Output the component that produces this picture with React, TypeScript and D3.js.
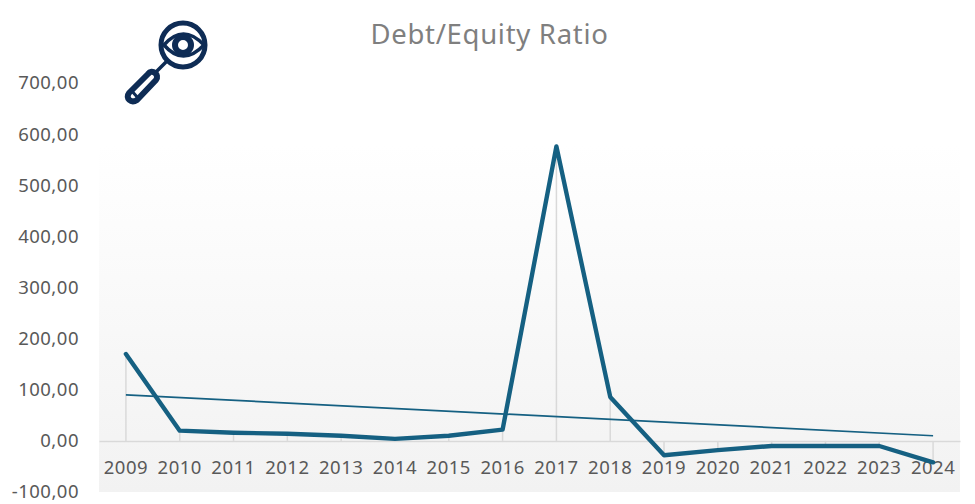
import { useEffect, useRef } from "react";
import * as d3 from "d3";

const years = ["2009", "2010", "2011", "2012", "2013", "2014", "2015", "2016", "2017", "2018", "2019", "2020", "2021", "2022", "2023", "2024"];
const ratio = [170, 20, 16, 14, 10, 4, 10, 22, 576, 86, -28, -18, -10, -10, -10, -42];
const trendYears = ["2009", "2024"];
const trendValues = [90, 10];
const yTicks = [-100, 0, 100, 200, 300, 400, 500, 600, 700];
const title = "Debt/Equity Ratio";

const Width = 975;
const Height = 504;
const fontFamily = "'Noto Sans', sans-serif";
const lineColor = "#156082";
const iconColor = "#0e2c55";

const euro = d3.formatLocale({
    decimal: ",",
    thousands: ".",
    grouping: [3],
    currency: ["", ""],
    minus: "-",
});

function App() {
    const svgRef = useRef<SVGSVGElement>(null);

    useEffect(() => {
        const svg = d3.select(svgRef.current);
        svg.selectAll("*").remove();

        const xScale = d3.scaleBand().domain(years).range([99, 960]);
        const yScale = d3.scaleLinear().domain([-100, 700]).range([492, 83]);
        const xMid = (year: string) => xScale(year)! + xScale.bandwidth() / 2;

        // plot background
        const gradient = svg
            .append("defs")
            .append("linearGradient")
            .attr("id", "plotBg")
            .attr("x1", 0)
            .attr("x2", 0)
            .attr("y1", 0)
            .attr("y2", 1);
        gradient.append("stop").attr("offset", "15%").attr("stop-color", "#ffffff");
        gradient.append("stop").attr("offset", "100%").attr("stop-color", "#f2f2f2");

        svg.append("rect")
            .attr("x", 99)
            .attr("y", yScale(700))
            .attr("width", 861)
            .attr("height", yScale(-100) - yScale(700))
            .attr("fill", "url(#plotBg)");

        // drop lines
        svg.append("g")
            .selectAll("line")
            .data(ratio)
            .join("line")
            .attr("x1", (d, i) => xMid(years[i]))
            .attr("x2", (d, i) => xMid(years[i]))
            .attr("y1", (d) => yScale(d))
            .attr("y2", yScale(0))
            .attr("stroke", "#d9d9d9")
            .attr("stroke-width", 1.5);

        // axes
        const xAxis = d3.axisBottom(xScale).tickSize(0).tickPadding(20);
        const gx = svg
            .append("g")
            .attr("transform", "translate(0," + yScale(0) + ")")
            .call(xAxis);
        gx.select(".domain").attr("stroke", "#d9d9d9").attr("stroke-width", 1.5);
        gx.selectAll("text")
            .style("font-family", fontFamily)
            .style("font-size", "18.5px")
            .style("letter-spacing", "0.5px")
            .attr("fill", "#595959");

        const yAxis = d3
            .axisLeft(yScale)
            .tickValues(yTicks)
            .tickSize(0)
            .tickPadding(0)
            .tickFormat((d) => euro.format(".2f")(d as number));
        const gy = svg.append("g").attr("transform", "translate(79,0)").call(yAxis);
        gy.select(".domain").remove();
        gy.selectAll("text")
            .style("font-family", fontFamily)
            .style("font-size", "18.5px")
            .style("letter-spacing", "0.5px")
            .attr("fill", "#595959");

        // trend line
        const trendLine = d3
            .line<number>()
            .x((d, i) => xMid(trendYears[i]))
            .y((d) => yScale(d));
        svg.append("path")
            .attr("d", trendLine(trendValues))
            .attr("fill", "none")
            .attr("stroke", lineColor)
            .attr("stroke-width", 1.7);

        // main series
        const myLine = d3
            .line<number>()
            .x((d, i) => xMid(years[i]))
            .y((d) => yScale(d));
        svg.append("path")
            .attr("d", myLine(ratio))
            .attr("fill", "none")
            .attr("stroke", lineColor)
            .attr("stroke-width", 4.4)
            .attr("stroke-linejoin", "round")
            .attr("stroke-linecap", "round");

        svg.append("text")
            .attr("x", 489.5)
            .attr("y", 44)
            .attr("text-anchor", "middle")
            .style("font-family", fontFamily)
            .style("font-size", "27.5px")
            .style("letter-spacing", "0.7px")
            .attr("fill", "#7f7f7f")
            .text(title);

        // magnifier icon
        const icon = svg
            .append("g")
            .attr("fill", "none")
            .attr("stroke", iconColor)
            .attr("stroke-width", 5)
            .attr("stroke-linecap", "round")
            .attr("stroke-linejoin", "round");
        icon.append("circle").attr("cx", 183).attr("cy", 45).attr("r", 22);
        icon.append("path").attr("d", "M164 45 Q183 23 204 45 Q183 67 164 45 Z").attr("stroke-width", 3.5);
        icon.append("circle").attr("cx", 183).attr("cy", 45).attr("r", 8).attr("stroke-width", 6);
        icon.append("path").attr("d", "M166 62 L157 71").attr("stroke-width", 3.5);
        icon.append("path")
            .attr("d", "M148 74 C152 68 160 75 156 80 L137 100 C131 104 125 98 129 93 Z")
            .attr("stroke-width", 6);
        icon.append("path").attr("d", "M131 90 L138 98").attr("stroke-width", 3);
    }, []);

    return (
        <svg
            ref={svgRef}
            width={Width}
            height={Height}
            style={{ position: "absolute", top: 0, left: 0, background: "#ffffff" }}
        ></svg>
    );
}

export default App;
